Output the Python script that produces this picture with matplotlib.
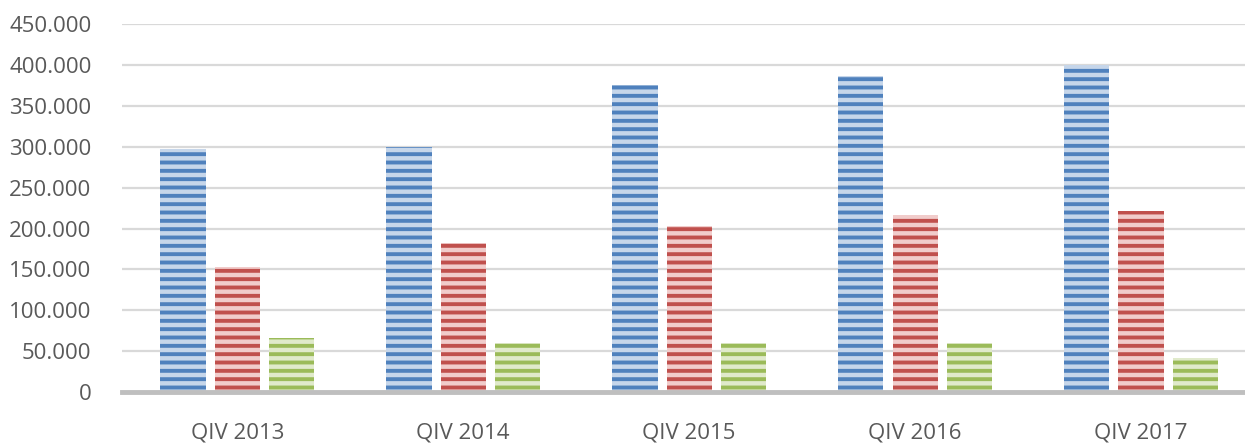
import numpy as np
import matplotlib
matplotlib.use('Agg')
import matplotlib.pyplot as plt
from matplotlib.ticker import FuncFormatter

categories = ['QIV 2013', 'QIV 2014', 'QIV 2015', 'QIV 2016', 'QIV 2017']
series_blue = [297000, 299500, 375000, 387000, 400000]
series_red = [153000, 182000, 203000, 216000, 222000]
series_green = [66000, 60000, 60000, 60000, 41500]

plt.rcParams['font.family'] = ['Open Sans', 'DejaVu Sans']
plt.rcParams['hatch.linewidth'] = 2.8

fig = plt.figure(figsize=(12.45, 4.46), dpi=100)
ax = fig.add_axes([0.098, 0.121, 0.902, 0.825])

x = np.arange(len(categories))
w = 0.2
styles = [
    (series_blue, -0.24, '#c6d6ea', '#4f81bd'),
    (series_red, 0.0, '#f1cccb', '#c0504d'),
    (series_green, 0.24, '#e0eacb', '#9bbb59'),
]
for vals, off, face, stripe in styles:
    ax.bar(x + off, vals, w, color=face, edgecolor=stripe, hatch='--',
           linewidth=0, zorder=3)

ax.set_ylim(0, 450000)
ax.set_xlim(-0.51, 4.46)
ax.set_yticks(np.arange(0, 450001, 50000))
ax.yaxis.set_major_formatter(FuncFormatter(lambda v, p: f'{int(v):,}'.replace(',', '.')))
ax.set_xticks(x)
ax.set_xticklabels(categories)
ax.tick_params(axis='both', length=0, labelsize=16, labelcolor='#595959')
ax.tick_params(axis='x', pad=22)
ax.tick_params(axis='y', pad=22)

ax.grid(axis='y', color='#d9d9d9', linewidth=1.6, zorder=0)
for s in ['top', 'right', 'left']:
    ax.spines[s].set_visible(False)
ax.spines['bottom'].set_color('#bfbfbf')
ax.spines['bottom'].set_linewidth(3.5)
ax.spines['bottom'].set_zorder(4)

fig.savefig('out.png', dpi=100)
